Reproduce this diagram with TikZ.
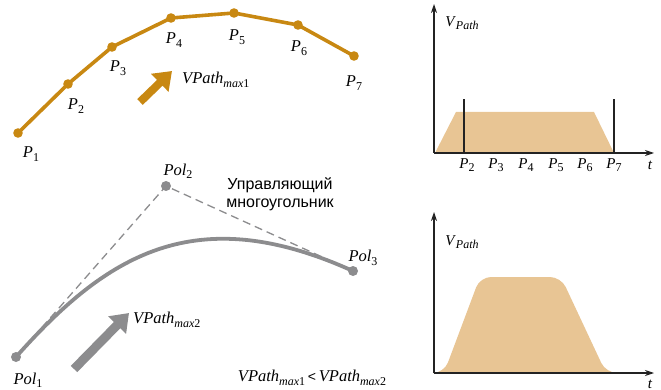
\documentclass[tikz,border=0pt]{standalone}
\usepackage{fontspec}
\setmainfont{Liberation Serif}
\newfontfamily\rusfont{Liberation Sans}
\usetikzlibrary{arrows.meta}
\definecolor{orng}{RGB}{200,136,18}
\definecolor{grc}{RGB}{140,140,142}
\definecolor{tanc}{RGB}{232,197,148}
\definecolor{axc}{RGB}{35,35,35}
\newcommand\Sb[1]{\raisebox{-0.45ex}{\fontsize{12}{12}\selectfont #1}}
\newcommand\Pt[1]{\textit{P}\Sb{#1}}
\newcommand\Pol[1]{\textit{Pol}\Sb{#1}}
\newcommand\Vmax[1]{\textit{VPath}\raisebox{-0.45ex}{\fontsize{12}{12}\selectfont\textit{max}#1}}
\begin{document}
\begin{tikzpicture}[x=1pt,y=-1pt,
  lbl/.style={font=\fontsize{16.5}{16.5}\selectfont, inner sep=0pt},
  clbl/.style={font=\fontsize{15}{15}\selectfont, inner sep=0pt},
  axis/.style={axc, line width=1.2pt, -{Stealth[length=9pt,width=6pt]}},
  bigarrow/.style={line width=8pt, -{Triangle[length=17pt,width=24pt]}},
  gdot/.style={grc},
  odot/.style={orng}]
\useasboundingbox (0,0) rectangle (661,390);

% ---------- top polyline ----------
\coordinate (p1) at (18,133);
\coordinate (p2) at (68,84);
\coordinate (p3) at (112,47);
\coordinate (p4) at (171,18);
\coordinate (p5) at (234,13);
\coordinate (p6) at (298,25);
\coordinate (p7) at (354,56);
\draw[orng, line width=3.6pt, line join=round] (p1) -- (p2) -- (p3) -- (p4) -- (p5) -- (p6) -- (p7);
\foreach \i in {1,...,7} \fill[odot] (p\i) circle (4.8);
\node[lbl] (lp1) at (31,154) {\Pt{1}};
\node[lbl] (lp2) at (76,106) {\Pt{2}};
\node[lbl] (lp3) at (118,68) {\Pt{3}};
\node[lbl] (lp4) at (174,40) {\Pt{4}};
\node[lbl] (lp5) at (237,37) {\Pt{5}};
\node[lbl] (lp6) at (299,48) {\Pt{6}};
\node[lbl] (lp7) at (354,83) {\Pt{7}};

\coordinate (oa1) at (140,102);
\coordinate (oa2) at (172,71);
\draw[orng, bigarrow] (oa1) -- (oa2);
\node[lbl, anchor=west] (vm1) at (182,80) {\Vmax{1}};

% ---------- bottom curve ----------
\coordinate (q1) at (16,357);
\coordinate (q2) at (166,186);
\coordinate (q3) at (353,271);
\draw[grc, line width=1.3pt, dash pattern=on 8pt off 5pt] (q1) -- (q2) -- (q3);
\draw[grc, line width=3.8pt] (q1) .. controls (106.6,255) and (195,199.6) .. (q3);
\foreach \i in {1,2,3} \fill[gdot] (q\i) circle (5);
\node[lbl] (lq1) at (28,380) {\Pol{1}};
\node[lbl] (lq2) at (178,171) {\Pol{2}};
\node[lbl] (lq3) at (363,258) {\Pol{3}};

\node[font=\rusfont\fontsize{16}{18}\selectfont, align=center, inner sep=0pt] (ctl) at (280,194) {Управляющий\\многоугольник};

\coordinate (ga1) at (74,369);
\coordinate (ga2) at (129,313);
\draw[grc, bigarrow, line width=9pt] (ga1) -- (ga2);
\node[lbl, anchor=west] (vm2) at (133,320) {\Vmax{2}};
\node[lbl] (ineq) at (312,378) {\Vmax{1}\,{\rusfont\fontsize{14}{14}\selectfont<}\,\Vmax{2}};

% ---------- top chart ----------
\fill[tanc] (435,153) -- (456,112) -- (594,112) -- (614,153) -- cycle;
\draw[axc, line width=1.1pt] (464,153) -- (464,99);
\draw[axc, line width=1.1pt] (614,153) -- (614,99);
\coordinate (o1) at (434,153);
\coordinate (y1) at (434,4);
\coordinate (x1) at (654,153);
\draw[axis] (o1) -- (y1);
\draw[axis] (o1) -- (x1);
\node[clbl] (v1) at (462,23) {\textit{V}\Sb{\textit{Path}}};
\node[clbl] (c2) at (467,165) {\Pt{2}};
\node[clbl] (c3) at (496,165) {\Pt{3}};
\node[clbl] (c4) at (526,165) {\Pt{4}};
\node[clbl] (c5) at (556,165) {\Pt{5}};
\node[clbl] (c6) at (585,165) {\Pt{6}};
\node[clbl] (c7) at (614,165) {\Pt{7}};
\node[clbl] (t1) at (650,165) {\textit{t}};

% ---------- bottom chart ----------
\fill[tanc, rounded corners=11pt] (430,373) -- (444,373) -- (480,277) -- (561,277) -- (606,373) -- (620,373) -- cycle;
\coordinate (o2) at (434,373);
\coordinate (y2) at (434,212);
\coordinate (x2) at (654,373);
\draw[axis] (o2) -- (y2);
\draw[axis] (o2) -- (x2);
\node[clbl] (v2) at (462,242) {\textit{V}\Sb{\textit{Path}}};
\node[clbl] (t2) at (650,384) {\textit{t}};
\end{tikzpicture}
\end{document}
